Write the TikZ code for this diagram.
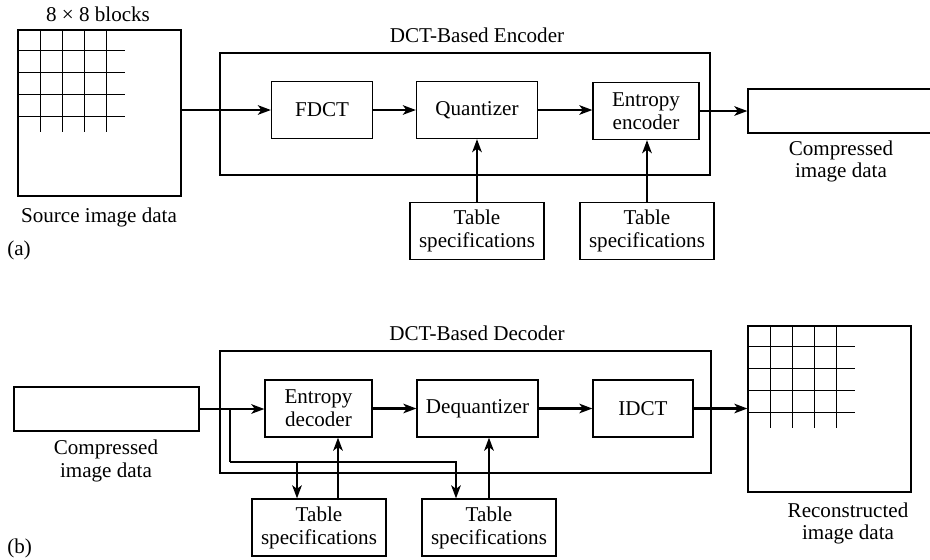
\documentclass[tikz,border=0pt]{standalone}
\usepackage{fontspec}
\setmainfont{Liberation Serif}
\usepackage{tikz}
\usetikzlibrary{arrows.meta,positioning,calc}

% grid of 8x8 blocks in the top left corner of an image box
\newcommand{\blockgrid}[1]{%
  \begin{scope}[shift={(#1.north west)}]
    \foreach \k in {1,...,4} {
      \draw[line width=0.7pt] ({22*\k+1},0) -- ({22*\k+1},103);
      \draw[line width=0.7pt] (0,{22*\k-1}) -- (108,{22*\k-1});
    }
  \end{scope}}

\begin{document}
\begin{tikzpicture}[x=0.02cm,y=-0.02cm,
    font=\fontsize{12}{13}\selectfont,
    blk/.style={draw,line width=0.7pt,align=center,inner sep=1pt,minimum height=1.14cm},
    frame/.style={draw,line width=0.7pt,inner sep=0pt},
    imgbox/.style={draw,line width=0.7pt,inner sep=0pt,minimum width=3.26cm,minimum height=3.32cm},
    databox/.style={draw,line width=0.7pt,inner sep=0pt,minimum width=3.7cm,minimum height=0.88cm},
    txt/.style={align=center,inner sep=0pt},
    flow/.style={line width=1.6pt,-{Stealth[length=0.26cm,width=0.19cm,inset=0.07cm]}},
    bus/.style={line width=1.6pt}]
  \clip (0,0) rectangle (930,559);

  % (a) encoder
  \node[txt] (blocks) at (98,14) {8 × 8 blocks};
  \node[imgbox] (src) at (99.5,113) {};
  \blockgrid{src}
  \node[txt] (srclbl) at (99,217) {Source image data};
  \node[txt,anchor=west] (parta) at (7,250) {(a)};

  \node[frame,minimum width=9.8cm,minimum height=2.44cm] (enc) at (465,114) {};
  \node[txt] (enclbl) at (477,35) {DCT-Based Encoder};
  \node[blk,minimum width=2.02cm] (fdct)   at (322,110) {FDCT};
  \node[blk,minimum width=2.42cm] (quant)  at (477,110) {Quantizer};
  \node[blk,minimum width=2.12cm] (entenc) at (646,111) {Entropy\\encoder};
  \node[blk,minimum width=2.68cm] (tabqa)  at (477,231) {Table\\specifications};
  \node[blk,minimum width=2.68cm] (tabea)  at (647,231) {Table\\specifications};
  \node[databox] (cmpa) at (840.5,111) {};
  \node[txt] (cmpalbl) at (841,161.5) {Compressed\\image data};

  \draw[flow] (src.east |- fdct.west) -- (fdct.west);
  \draw[flow] (fdct) -- (quant);
  \draw[flow] (quant.east) -- (quant.east -| entenc.west);
  \draw[flow] (entenc.east) -- (entenc.east -| cmpa.west);
  \draw[flow] (tabqa) -- (quant);
  \draw[flow] (tabea.north) -- (tabea.north |- entenc.south);

  % (b) decoder
  \node[frame,minimum width=9.82cm,minimum height=2.44cm] (dec) at (465.5,412) {};
  \node[txt] (declbl) at (477,333) {DCT-Based Decoder};
  \node[databox] (cmpb) at (106.5,409) {};
  \node[txt] (cmpblbl) at (106,461) {Compressed\\image data};
  \node[blk,minimum width=2.14cm] (entdec)  at (318.5,408.5) {Entropy\\decoder};
  \node[blk,minimum width=2.42cm] (dequant) at (477.5,408.5) {Dequantizer};
  \node[blk,minimum width=2.0cm]  (idct)    at (643,408.5) {IDCT};
  \node[blk,minimum width=2.68cm] (tabdb1)  at (319,527.5) {Table\\specifications};
  \node[blk,minimum width=2.68cm] (tabdb2)  at (489,527.5) {Table\\specifications};
  \node[imgbox] (rec) at (829.5,409) {};
  \blockgrid{rec}
  \node[txt] (reclbl) at (848,523.5) {Reconstructed\\image data};
  \node[txt,anchor=west] (partb) at (7,548) {(b)};

  \coordinate (tap) at (230,409);
  \coordinate (tapdn) at (230,462);
  \draw[flow] (cmpb.east) -- (cmpb.east -| entdec.west);
  \draw[bus] (tap) -- (tapdn);
  \draw[flow] (tapdn) -| ([xshift=-0.66cm]tabdb2.north);
  \draw[flow] ([xshift=-0.44cm]tabdb1.north |- tapdn) -- ([xshift=-0.44cm]tabdb1.north);
  \draw[flow] ([xshift=0.38cm]tabdb1.north) -- ([xshift=0.38cm]tabdb1.north |- entdec.south);
  \draw[flow] (tabdb2.north) -- (tabdb2.north |- dequant.south);
  \draw[flow] (entdec) -- (dequant);
  \draw[flow] (dequant.east) -- (dequant.east -| idct.west);
  \draw[flow] (idct.east) -- (idct.east -| rec.west);
\end{tikzpicture}
\end{document}
